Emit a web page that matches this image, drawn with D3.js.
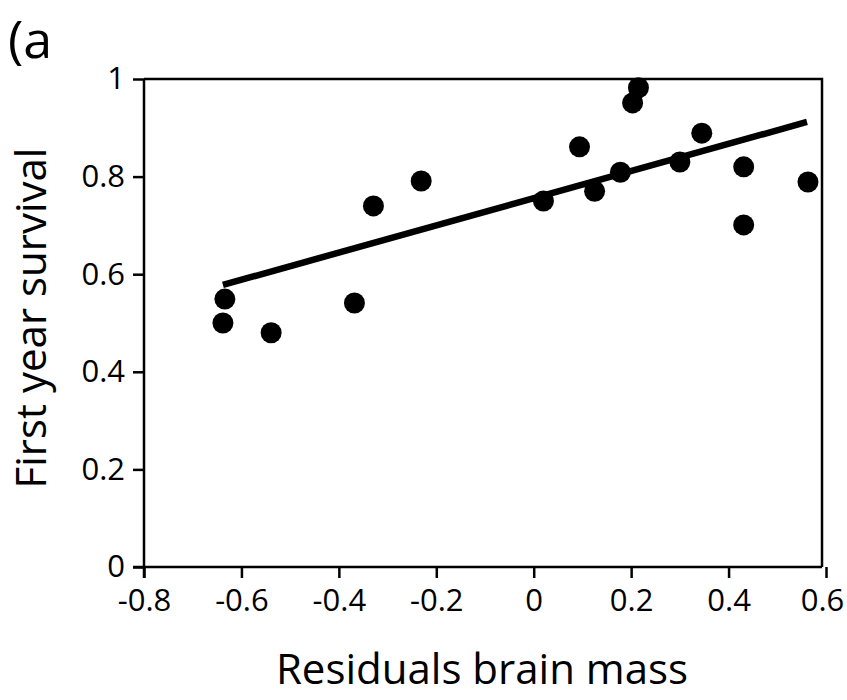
<!DOCTYPE html>
<html>
<head>
<meta charset="utf-8">
<script src="https://cdn.jsdelivr.net/npm/d3@7"></script>
<style>
  body { margin: 0; background: #fff; }
  text { font-family: "Open Sans", "Noto Sans", sans-serif; fill: #000; }
</style>
</head>
<body>
<div id="chart-area"></div>
<script>
const margin = { top: 79, right: 21, bottom: 133, left: 144 };
const width = 847 - margin.left - margin.right;
const height = 700 - margin.top - margin.bottom;

// residual brain mass vs first year survival
const brainResidual = [-0.634, -0.638, -0.539, -0.368, -0.329, -0.231, 0.020, 0.094, 0.125,
  0.178, 0.203, 0.215, 0.300, 0.345, 0.431, 0.431, 0.563];
const survival = [0.549, 0.500, 0.480, 0.541, 0.740, 0.791, 0.750, 0.861, 0.770,
  0.809, 0.951, 0.982, 0.830, 0.889, 0.820, 0.701, 0.789];

// fitted line end points
const fitX = [-0.638, 0.561];
const fitY = [0.578, 0.912];

const xTicks = [-0.8, -0.6, -0.4, -0.2, 0, 0.2, 0.4, 0.6];
const yTicks = [0, 0.2, 0.4, 0.6, 0.8, 1];

const svg = d3.select("#chart-area")
  .append("svg")
  .attr("width", width + margin.left + margin.right)
  .attr("height", height + margin.top + margin.bottom);

const g = svg.append("g")
  .attr("transform", `translate(${margin.left}, ${margin.top})`);

const x = d3.scaleLinear().domain([-0.8, 0.6]).range([0, width]);
const y = d3.scaleLinear().domain([0, 1]).range([height, 0]);

// plain hyphen for negatives, like the original
const fmt = d => String(d);

const xAxis = d3.axisBottom(x).tickValues(xTicks).tickFormat(fmt).tickSize(11).tickPadding(11);
const yAxis = d3.axisLeft(y).tickValues(yTicks).tickFormat(fmt).tickSize(11).tickPadding(8);

// box top and right sides
g.append("path")
  .attr("d", `M0,0H${width - 4}V${height}`)
  .attr("fill", "none")
  .attr("stroke", "#000")
  .attr("stroke-width", 2.5);

const xAxisGroup = g.append("g")
  .attr("transform", `translate(0,${height})`)
  .call(xAxis);
const yAxisGroup = g.append("g").call(yAxis);

[xAxisGroup, yAxisGroup].forEach(ax => {
  ax.select(".domain").remove();
  ax.selectAll("line").attr("stroke", "#000").attr("stroke-width", 2.5);
  ax.selectAll("text").attr("font-size", "31px").attr("font-family", null);
});

// last x label sits against the page edge
xAxisGroup.selectAll(".tick text").filter(d => d === 0.6).attr("dx", -4);

g.append("line")
  .attr("x1", -11).attr("x2", width - 4)
  .attr("y1", height).attr("y2", height)
  .attr("stroke", "#000").attr("stroke-width", 2.5);
g.append("line")
  .attr("x1", 0).attr("x2", 0)
  .attr("y1", 0).attr("y2", height + 11)
  .attr("stroke", "#000").attr("stroke-width", 2.5);

// regression line
g.append("line")
  .attr("x1", x(fitX[0])).attr("y1", y(fitY[0]))
  .attr("x2", x(fitX[1])).attr("y2", y(fitY[1]))
  .attr("stroke", "#000")
  .attr("stroke-width", 6.5);

g.selectAll("circle")
  .data(brainResidual.map((b, i) => ({ b: b, s: survival[i] })))
  .enter()
  .append("circle")
  .attr("cx", d => x(d.b))
  .attr("cy", d => y(d.s))
  .attr("r", 10.5)
  .attr("fill", "#000");

svg.append("text")
  .attr("x", 482)
  .attr("y", 684)
  .attr("text-anchor", "middle")
  .attr("font-size", "42px")
  .text("Residuals brain mass");

svg.append("text")
  .attr("transform", `translate(46, 318) rotate(-90)`)
  .attr("text-anchor", "middle")
  .attr("font-size", "42px")
  .text("First year survival");

svg.append("text")
  .attr("x", 8)
  .attr("y", 58)
  .attr("font-size", "52px")
  .text("(a");
</script>
</body>
</html>
